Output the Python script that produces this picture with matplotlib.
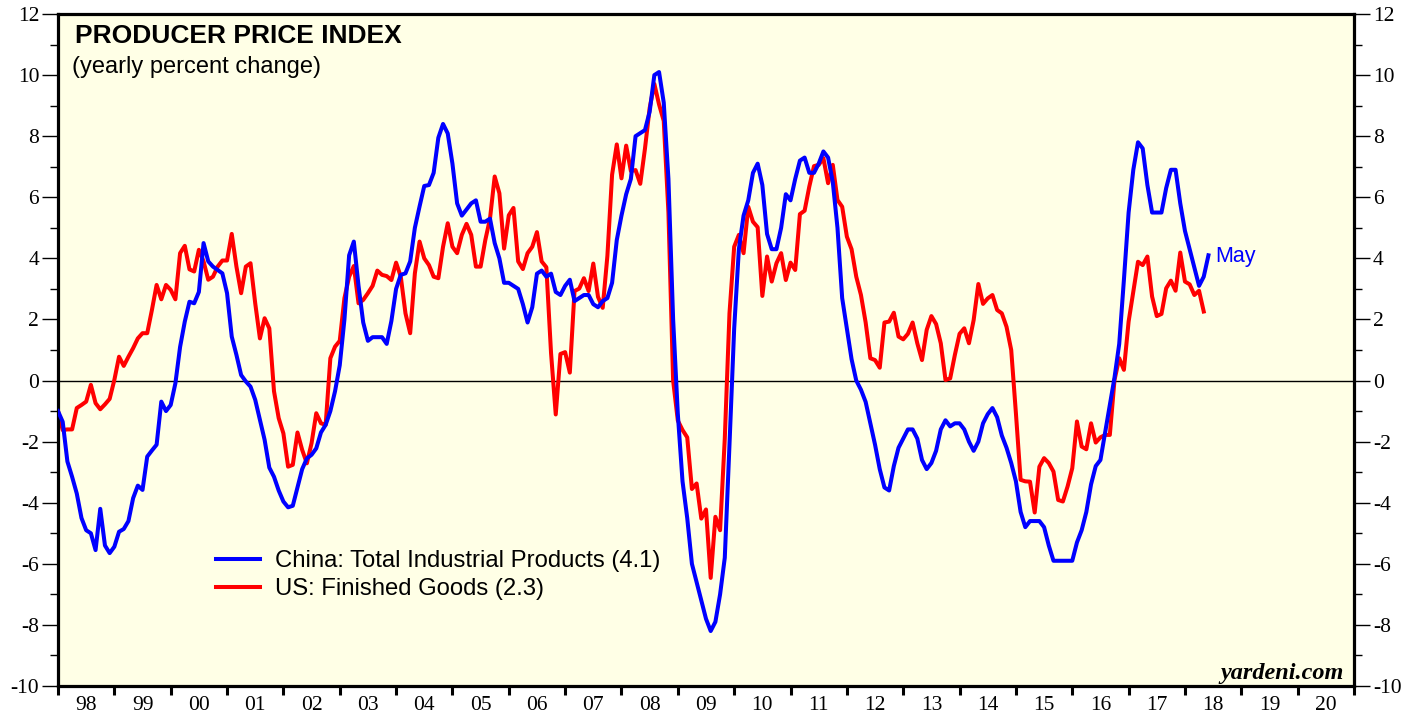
import numpy as np
import pandas as pd
import matplotlib
matplotlib.use("Agg")
import matplotlib.pyplot as plt
from matplotlib.ticker import MultipleLocator, FixedLocator, NullFormatter

plt.rcParams['axes.unicode_minus'] = False

# monthly yoy % change, first value is Dec 1997
start = "1997-12"

china = [
    -1.0,
    -1.35, -2.65, -3.15, -3.7, -4.5, -4.9, -5.0, -5.55, -4.2, -5.4, -5.65, -5.44,   # 98
    -4.95, -4.86, -4.6, -3.85, -3.44, -3.58, -2.49, -2.29, -2.1, -0.69, -1.0, -0.8,  # 99
    -0.09, 1.1, 1.93, 2.58, 2.53, 2.9, 4.5, 3.9, 3.73, 3.62, 3.51, 2.86,             # 00
    1.44, 0.84, 0.18, -0.03, -0.2, -0.63, -1.29, -1.94, -2.85, -3.15, -3.6, -3.96,   # 01
    -4.15, -4.1, -3.5, -2.9, -2.55, -2.43, -2.22, -1.7, -1.45, -1.0, -0.35, 0.5,     # 02
    2.0, 4.1, 4.55, 3.1, 1.9, 1.3, 1.42, 1.42, 1.42, 1.2, 1.95, 3.0,                 # 03
    3.46, 3.51, 3.9, 5.0, 5.7, 6.37, 6.4, 6.8, 7.95, 8.4, 8.09, 7.1,                 # 04
    5.8, 5.4, 5.6, 5.8, 5.9, 5.2, 5.2, 5.3, 4.5, 4.0, 3.2, 3.2,                      # 05
    3.1, 3.0, 2.5, 1.9, 2.4, 3.5, 3.6, 3.4, 3.5, 2.9, 2.8, 3.1,                      # 06
    3.3, 2.6, 2.7, 2.8, 2.8, 2.5, 2.4, 2.6, 2.7, 3.2, 4.6, 5.4,                      # 07
    6.1, 6.6, 8.0, 8.1, 8.2, 8.8, 10.0, 10.1, 9.1, 6.6, 2.0, -1.1,                   # 08
    -3.3, -4.5, -6.0, -6.6, -7.2, -7.8, -8.2, -7.9, -7.0, -5.8, -2.1, 1.7,           # 09
    4.3, 5.4, 5.9, 6.8, 7.1, 6.4, 4.8, 4.3, 4.3, 5.0, 6.1, 5.9,                      # 10
    6.6, 7.2, 7.3, 6.8, 6.8, 7.1, 7.5, 7.3, 6.5, 5.0, 2.7, 1.7,                      # 11
    0.7, 0.0, -0.3, -0.7, -1.4, -2.1, -2.9, -3.5, -3.6, -2.8, -2.2, -1.9,            # 12
    -1.6, -1.6, -1.9, -2.6, -2.9, -2.7, -2.3, -1.6, -1.3, -1.5, -1.4, -1.4,          # 13
    -1.6, -2.0, -2.3, -2.0, -1.4, -1.1, -0.9, -1.2, -1.8, -2.2, -2.7, -3.3,          # 14
    -4.3, -4.8, -4.6, -4.6, -4.6, -4.8, -5.4, -5.9, -5.9, -5.9, -5.9, -5.9,          # 15
    -5.3, -4.9, -4.3, -3.4, -2.8, -2.6, -1.7, -0.8, 0.1, 1.2, 3.3, 5.5,              # 16
    6.9, 7.8, 7.6, 6.4, 5.5, 5.5, 5.5, 6.3, 6.9, 6.9, 5.8, 4.9,                      # 17
    4.3, 3.7, 3.1, 3.4, 4.1,                                                         # 18
]

us = [
    -1.0,
    -1.62, -1.6, -1.6, -0.9, -0.8, -0.69, -0.14, -0.74, -0.94, -0.78, -0.6, 0.02,    # 98
    0.78, 0.48, 0.78, 1.06, 1.38, 1.55, 1.55, 2.31, 3.13, 2.66, 3.13, 2.97,          # 99
    2.66, 4.17, 4.41, 3.64, 3.57, 4.28, 3.9, 3.3, 3.4, 3.73, 3.93, 3.93,             # 00
    4.8, 3.73, 2.86, 3.73, 3.84, 2.53, 1.38, 2.04, 1.71, -0.35, -1.23, -1.73,        # 01
    -2.82, -2.76, -1.7, -2.27, -2.71, -2.05, -1.07, -1.4, -1.45, 0.73, 1.11, 1.3,    # 02
    2.7, 3.4, 3.75, 2.53, 2.64, 2.86, 3.1, 3.6, 3.46, 3.42, 3.29, 3.86,              # 03
    3.4, 2.2, 1.55, 3.51, 4.55, 4.0, 3.78, 3.4, 3.35, 4.38, 5.15, 4.38,              # 04
    4.17, 4.77, 5.13, 4.77, 3.73, 3.73, 4.6, 5.3, 6.68, 6.13, 4.32, 5.41,            # 05
    5.65, 3.9, 3.65, 4.17, 4.38, 4.86, 3.9, 3.71, 0.9, -1.11, 0.87, 0.93,            # 06
    0.26, 2.93, 3.01, 3.35, 2.93, 3.83, 2.74, 2.38, 4.08, 6.74, 7.73, 6.62,          # 07
    7.69, 6.86, 6.89, 6.44, 7.59, 8.92, 9.71, 9.04, 8.5, 5.5, 0.0, -1.31,            # 08
    -1.62, -1.86, -3.55, -3.37, -4.52, -4.22, -6.46, -4.46, -4.9, -1.9, 2.2, 4.38,   # 09
    4.77, 4.17, 5.69, 5.2, 5.02, 2.77, 4.06, 3.24, 3.84, 4.17, 3.29, 3.86,           # 10
    3.62, 5.45, 5.56, 6.35, 7.02, 7.06, 7.28, 6.46, 7.06, 5.91, 5.69, 4.71,          # 11
    4.3, 3.4, 2.8, 1.9, 0.73, 0.67, 0.42, 1.9, 1.93, 2.22, 1.44, 1.35,               # 12
    1.53, 1.9, 1.22, 0.67, 1.66, 2.11, 1.85, 1.22, 0.02, 0.07, 0.84, 1.53,           # 13
    1.71, 1.22, 1.98, 3.16, 2.51, 2.69, 2.8, 2.31, 2.2, 1.76, 1.0, -1.07,            # 14
    -3.25, -3.3, -3.31, -4.32, -2.82, -2.54, -2.7, -2.98, -3.91, -3.96, -3.47, -2.87,  # 15
    -1.34, -2.16, -2.25, -1.4, -2.03, -1.86, -1.78, -1.78, 0.02, 0.73, 0.35, 1.93,   # 16
    2.91, 3.89, 3.78, 4.06, 2.75, 2.11, 2.18, 3.02, 3.27, 2.94, 4.19, 3.24,          # 17
    3.15, 2.8, 2.94, 2.26,                                                           # 18
]

years = list(range(1998, 2021))
year_labels = ["%02d" % (y % 100) for y in years]
labels = ["China: Total Industrial Products (4.1)", "US: Finished Goods (2.3)"]


def month_pos(n):
    p = pd.period_range(start, periods=n, freq="M")
    return np.array(p.year + p.month / 12.0)


serif = ['Liberation Serif', 'DejaVu Serif']
sans = ['Liberation Sans', 'DejaVu Sans']

fig = plt.figure(figsize=(14.21, 7.17), dpi=100)
ax = fig.add_axes([58 / 1421, 31 / 717, 1296 / 1421, 672 / 717])
ax.set_facecolor('#ffffe6')

ax.axhline(0, color='black', lw=1.0, zorder=1)
ax.plot(month_pos(len(china)), china, color='#0000ff', lw=2.9, label=labels[0], zorder=3)
ax.plot(month_pos(len(us)), us, color='#ff0000', lw=2.9, label=labels[1], zorder=2)

ax.set_xlim(1998, 2021)
ax.set_ylim(-10, 12)

for s in ax.spines.values():
    s.set_linewidth(2.3)

# y axis, both sides
ax.yaxis.set_major_locator(MultipleLocator(2))
ax.yaxis.set_minor_locator(MultipleLocator(1))
ax.tick_params(axis='y', which='both', direction='out', left=True, right=True,
               labelleft=True, labelright=True, width=1.0)
ax.tick_params(axis='y', which='major', length=11.5, pad=2, labelsize=15.5)
ax.tick_params(axis='y', which='minor', length=6)
for t in ax.get_yticklabels():
    t.set_family(serif)

# x axis: ticks on year edges, labels in the middle of each year
ax.xaxis.set_major_locator(FixedLocator(years + [2021]))
ax.xaxis.set_major_formatter(NullFormatter())
ax.xaxis.set_minor_locator(FixedLocator([y + 0.5 for y in years]))
ax.set_xticklabels(year_labels, minor=True)
ax.tick_params(axis='x', which='major', direction='out', length=6.5, width=2.2)
ax.tick_params(axis='x', which='minor', length=0, pad=7, labelsize=15.5)
for t in ax.get_xticklabels(minor=True):
    t.set_family(serif)

ax.text(0.0131, 0.957, "PRODUCER PRICE INDEX", transform=ax.transAxes,
        fontsize=19, fontweight='bold', family=sans, va='baseline', ha='left')
ax.text(0.0108, 0.912, "(yearly percent change)", transform=ax.transAxes,
        fontsize=17, family=sans, va='baseline', ha='left')

ax.text(2018.53, 4.05, "May", color='#0000ff', fontsize=15.5, family=sans,
        va='center', ha='left')

ax.text(0.992, 0.003, "yardeni.com", transform=ax.transAxes, fontsize=17.5,
        family=serif, fontweight='bold', fontstyle='italic', ha='right', va='bottom')

leg = ax.legend(loc='upper left', bbox_to_anchor=(0.1219, 0.202), frameon=False,
                prop={'family': sans, 'size': 17.2}, handlelength=1.85,
                handletextpad=0.63, labelspacing=0.24, borderpad=0, borderaxespad=0)

fig.savefig("out.png", dpi=100, facecolor='white')
